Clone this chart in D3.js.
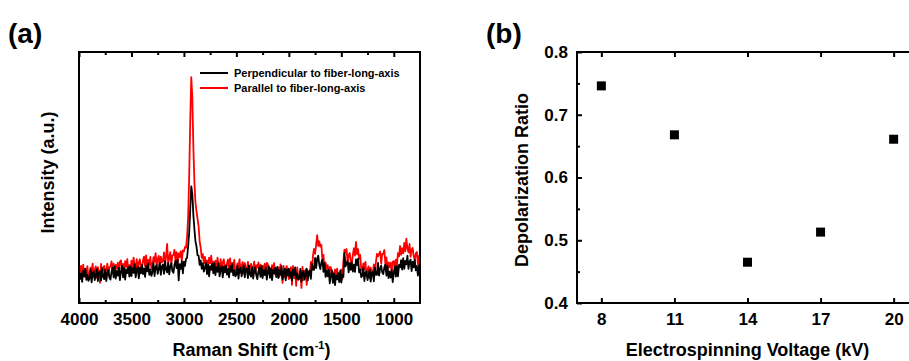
<!DOCTYPE html>
<html>
<head>
<meta charset="utf-8">
<script src="https://cdn.jsdelivr.net/npm/d3@7"></script>
<style>
  body { margin: 0; background: #fff; }
  text { font-family: "Liberation Sans", Arial, sans-serif; font-weight: bold; fill: #000; }
</style>
</head>
<body>
<svg id="chart" width="909" height="361"></svg>
<script>
// Raman shift grid (cm-1)
const shifts = [
  4000, 3990, 3980, 3970, 3960, 3950, 3940, 3930, 3920, 3910,
  3900, 3890, 3880, 3870, 3860, 3850, 3840, 3830, 3820, 3810,
  3800, 3790, 3780, 3770, 3760, 3750, 3740, 3730, 3720, 3710,
  3700, 3690, 3680, 3670, 3660, 3650, 3640, 3630, 3620, 3610,
  3600, 3590, 3580, 3570, 3560, 3550, 3540, 3530, 3520, 3510,
  3500, 3490, 3480, 3470, 3460, 3450, 3440, 3430, 3420, 3410,
  3400, 3390, 3380, 3370, 3360, 3350, 3340, 3330, 3320, 3310,
  3300, 3290, 3280, 3270, 3260, 3250, 3240, 3230, 3220, 3210,
  3200, 3190, 3180, 3170, 3160, 3150, 3140, 3130, 3120, 3110,
  3100, 3090, 3080, 3070, 3060, 3050, 3040, 3030, 3020, 3010,
  3000, 2990, 2980, 2970, 2960, 2950, 2940, 2930, 2920, 2910,
  2900, 2890, 2880, 2870, 2860, 2850, 2840, 2830, 2820, 2810,
  2800, 2790, 2780, 2770, 2760, 2750, 2740, 2730, 2720, 2710,
  2700, 2690, 2680, 2670, 2660, 2650, 2640, 2630, 2620, 2610,
  2600, 2590, 2580, 2570, 2560, 2550, 2540, 2530, 2520, 2510,
  2500, 2490, 2480, 2470, 2460, 2450, 2440, 2430, 2420, 2410,
  2400, 2390, 2380, 2370, 2360, 2350, 2340, 2330, 2320, 2310,
  2300, 2290, 2280, 2270, 2260, 2250, 2240, 2230, 2220, 2210,
  2200, 2190, 2180, 2170, 2160, 2150, 2140, 2130, 2120, 2110,
  2100, 2090, 2080, 2070, 2060, 2050, 2040, 2030, 2020, 2010,
  2000, 1990, 1980, 1970, 1960, 1950, 1940, 1930, 1920, 1910,
  1900, 1890, 1880, 1870, 1860, 1850, 1840, 1830, 1820, 1810,
  1800, 1790, 1780, 1770, 1760, 1750, 1740, 1730, 1720, 1710,
  1700, 1690, 1680, 1670, 1660, 1650, 1640, 1630, 1620, 1610,
  1600, 1590, 1580, 1570, 1560, 1550, 1540, 1530, 1520, 1510,
  1500, 1490, 1480, 1470, 1460, 1450, 1440, 1430, 1420, 1410,
  1400, 1390, 1380, 1370, 1360, 1350, 1340, 1330, 1320, 1310,
  1300, 1290, 1280, 1270, 1260, 1250, 1240, 1230, 1220, 1210,
  1200, 1190, 1180, 1170, 1160, 1150, 1140, 1130, 1120, 1110,
  1100, 1090, 1080, 1070, 1060, 1050, 1040, 1030, 1020, 1010,
  1000, 990, 980, 970, 960, 950, 940, 930, 920, 910,
  900, 890, 880, 870, 860, 850, 840, 830, 820, 810,
  800, 790, 780, 770, 760, 750
];

// Perpendicular to fiber-long-axis (a.u.)
const perpendicular = [
  13.2, 9.5, 11.8, 8.4, 12.9, 10.6, 13.7, 9.2, 11.3, 8.8,
  9.8, 13.4, 8.2, 11.9, 12.6, 9.1, 11.2, 13.5, 8.7, 12.1,
  12.7, 8.9, 13.9, 10.6, 9.5, 13.3, 8.7, 11.9, 13.2, 10.0,
  9.3, 12.5, 14.1, 10.2, 14.6, 9.7, 12.8, 10.9, 14.0, 9.1,
  12.7, 14.8, 10.2, 13.9, 9.3, 13.4, 11.9, 14.3, 10.5, 14.6,
  10.7, 13.9, 12.0, 15.5, 10.2, 13.0, 14.4, 9.8, 14.1, 11.8,
  15.2, 11.5, 13.8, 10.4, 14.9, 12.6, 15.7, 11.2, 13.3, 10.8,
  12.3, 15.9, 10.7, 14.4, 15.1, 11.6, 13.7, 16.0, 11.2, 14.6,
  15.4, 11.6, 16.6, 13.3, 12.2, 16.0, 11.4, 14.6, 15.9, 12.7,
  12.0, 15.2, 16.8, 13.9, 17.3, 9.0, 15.5, 13.6, 16.7, 11.8,
  16.5, 14.8, 17.6, 18.0, 22.5, 28.0, 37.0, 46.5, 43.5, 35.0,
  29.5, 24.5, 22.5, 19.0, 18.8, 15.2, 17.0, 13.6, 15.8, 12.5,
  14.0, 16.1, 11.5, 15.2, 10.6, 14.7, 13.2, 15.6, 11.8, 15.9,
  11.1, 14.3, 12.4, 15.9, 10.6, 13.4, 14.8, 10.2, 14.5, 12.2,
  15.0, 11.3, 13.6, 10.2, 14.7, 12.4, 15.5, 11.0, 13.1, 10.6,
  11.3, 14.9, 9.7, 13.4, 14.1, 10.6, 12.7, 15.0, 10.2, 13.6,
  13.7, 9.9, 14.9, 11.6, 10.5, 14.3, 9.7, 12.9, 14.2, 11.0,
  9.5, 12.7, 14.3, 10.4, 14.8, 9.9, 13.0, 11.1, 14.2, 9.3,
  12.5, 14.6, 10.0, 13.7, 9.1, 13.2, 11.7, 14.1, 10.3, 14.4,
  9.9, 13.1, 11.2, 14.7, 9.4, 12.2, 13.6, 9.0, 13.3, 11.0,
  13.7, 10.0, 12.3, 8.9, 13.4, 11.1, 14.2, 9.7, 11.8, 9.3,
  10.0, 13.6, 8.4, 12.1, 12.8, 9.3, 11.4, 13.7, 8.9, 12.3,
  12.9, 9.6, 15.6, 13.3, 13.2, 18.0, 13.9, 17.6, 18.9, 15.2,
  13.5, 16.2, 17.3, 12.4, 15.8, 10.4, 13.0, 10.6, 13.2, 7.8,
  11.0, 13.1, 8.0, 11.7, 7.1, 11.0, 9.5, 11.9, 8.3, 12.9,
  8.1, 11.3, 10.4, 19.9, 14.6, 15.9, 16.8, 12.2, 16.0, 13.2,
  16.2, 12.5, 15.3, 12.4, 17.4, 15.1, 17.7, 12.2, 13.3, 10.3,
  10.8, 14.2, 8.7, 12.1, 12.6, 9.1, 11.2, 13.3, 8.5, 12.1,
  12.4, 8.6, 14.1, 11.3, 11.2, 16.0, 10.9, 13.6, 14.9, 12.2,
  11.5, 14.2, 15.3, 10.9, 14.8, 9.9, 12.5, 10.1, 13.2, 8.3,
  12.0, 14.6, 10.5, 14.7, 10.6, 15.2, 14.2, 17.1, 13.3, 17.9,
  13.6, 16.8, 15.4, 18.9, 13.6, 16.4, 17.3, 12.7, 16.5, 14.2,
  17.2, 13.0, 14.8, 10.9, 14.9, 12.1
];

// Parallel to fiber-long-axis (a.u.)
const parallel = [
  10.0, 13.2, 14.8, 10.9, 15.3, 10.4, 13.5, 11.6, 14.7, 9.8,
  10.9, 14.1, 12.2, 15.7, 10.4, 13.2, 14.6, 10.0, 14.3, 12.0,
  8.0, 15.6, 10.4, 14.1, 14.8, 11.3, 13.4, 15.7, 10.9, 14.3,
  14.5, 16.6, 12.0, 15.7, 11.1, 15.2, 13.7, 16.1, 12.3, 16.4,
  17.0, 13.3, 15.6, 12.2, 16.7, 14.4, 17.5, 13.0, 15.1, 12.6,
  16.9, 13.1, 18.1, 14.8, 13.7, 17.5, 12.9, 16.1, 17.4, 14.2,
  13.7, 16.9, 18.5, 14.6, 19.0, 14.1, 17.2, 15.3, 18.4, 13.5,
  15.1, 18.3, 16.4, 19.9, 14.6, 17.4, 18.8, 14.2, 18.5, 16.2,
  16.6, 20.2, 15.0, 18.7, 23.5, 15.9, 18.0, 20.3, 15.5, 18.9,
  19.1, 21.2, 16.6, 20.3, 15.7, 19.8, 18.3, 20.7, 16.9, 21.0,
  20.5, 22.3, 22.0, 26.5, 34.0, 50.0, 72.0, 90.0, 82.0, 62.0,
  48.0, 40.0, 36.5, 33.5, 30.5, 24.5, 22.0, 18.0, 19.5, 15.8,
  18.4, 14.7, 17.0, 13.6, 18.1, 15.8, 18.9, 14.4, 16.5, 14.0,
  16.9, 13.1, 18.1, 14.8, 13.7, 17.5, 12.9, 16.1, 17.4, 14.2,
  12.5, 15.7, 17.3, 13.4, 17.8, 12.9, 16.0, 14.1, 17.2, 12.3,
  12.6, 15.8, 13.9, 17.4, 12.1, 14.9, 16.3, 11.7, 16.0, 13.7,
  12.8, 16.4, 11.2, 14.9, 15.6, 12.1, 14.2, 16.5, 11.7, 15.1,
  14.1, 16.2, 11.6, 15.3, 10.7, 14.8, 13.3, 15.7, 11.9, 16.0,
  15.4, 11.7, 14.0, 10.6, 15.1, 12.8, 15.9, 11.4, 13.5, 11.0,
  14.2, 10.4, 15.4, 12.1, 8.0, 14.8, 10.2, 13.4, 14.7, 11.5,
  9.5, 12.7, 14.3, 7.2, 14.8, 9.9, 13.0, 6.8, 14.2, 9.3,
  9.6, 12.8, 6.0, 14.4, 9.1, 11.9, 13.3, 7.2, 13.0, 10.7,
  11.3, 16.4, 13.2, 18.9, 21.6, 19.6, 23.2, 27.0, 22.7, 24.6,
  22.5, 23.1, 17.0, 19.2, 13.1, 16.2, 13.7, 15.1, 10.8, 14.4,
  14.2, 10.5, 12.3, 8.9, 13.4, 10.6, 13.7, 9.2, 11.8, 9.8,
  13.4, 9.6, 16.6, 21.3, 20.2, 21.5, 15.9, 19.1, 19.9, 16.7,
  15.5, 19.2, 21.8, 18.9, 24.3, 19.4, 21.5, 17.6, 19.2, 13.3,
  13.1, 15.8, 13.4, 16.4, 10.6, 13.4, 14.6, 9.8, 14.1, 12.2,
  11.8, 15.4, 11.2, 16.4, 19.6, 18.6, 19.7, 20.5, 15.7, 19.6,
  19.5, 21.1, 15.5, 18.2, 12.6, 16.2, 14.2, 16.1, 12.3, 16.4,
  16.7, 14.0, 17.3, 14.9, 19.9, 18.6, 22.7, 19.2, 21.8, 19.8,
  23.9, 20.6, 25.6, 21.8, 20.2, 23.5, 18.4, 21.1, 21.9, 18.7,
  17.0, 19.7, 20.3, 15.4, 18.8, 12.9
];

const shiftTicks = [4000, 3500, 3000, 2500, 2000, 1500, 1000];
const shiftMinor = [3750, 3250, 2750, 2250, 1750, 1250];

// Panel (b)
const voltages = [8, 11, 14, 17, 20];
const depolarization = [0.746, 0.668, 0.465, 0.513, 0.661];
const voltageTicks = [8, 11, 14, 17, 20];
const ratioTicks = [0.4, 0.5, 0.6, 0.7, 0.8];
const ratioMinor = [0.45, 0.55, 0.65, 0.75];

const svg = d3.select('#chart');

// ---------- panel (a) ----------
const ax = { left: 79, right: 420, top: 52, bottom: 303 };

const xA = d3.scaleLinear().domain([4000, 750]).range([ax.left, ax.right]);
const yA = d3.scaleLinear().domain([0, 100]).range([ax.bottom, ax.top]);

svg.append('text').attr('x', 8).attr('y', 43)
  .style('font-size', '28px').text('(a)');

svg.append('defs').append('clipPath').attr('id', 'clipA')
  .append('rect')
  .attr('x', ax.left).attr('y', ax.top)
  .attr('width', ax.right - ax.left).attr('height', ax.bottom - ax.top);

const line = (vals) => d3.line()
  .x((d, i) => xA(shifts[i]))
  .y(d => yA(d))(vals);

const plotA = svg.append('g').attr('clip-path', 'url(#clipA)');
plotA.append('path').attr('d', line(parallel))
  .attr('fill', 'none').attr('stroke', '#ff0000').attr('stroke-width', 1.8)
  .attr('stroke-linejoin', 'round');
plotA.append('path').attr('d', line(perpendicular))
  .attr('fill', 'none').attr('stroke', '#000').attr('stroke-width', 1.8)
  .attr('stroke-linejoin', 'round');

// bottom axis, ticks inward
svg.append('g')
  .attr('transform', 'translate(0,' + ax.bottom + ')')
  .call(d3.axisBottom(xA).tickValues(shiftTicks).tickSize(-5).tickPadding(10).tickFormat(d3.format('d')))
  .call(g => g.select('.domain').remove())
  .call(g => g.selectAll('text').style('font-size', '17px'))
  .call(g => g.selectAll('line').attr('stroke-width', 2));
svg.append('g')
  .attr('transform', 'translate(0,' + ax.bottom + ')')
  .call(d3.axisBottom(xA).tickValues(shiftMinor).tickSize(-3).tickFormat(''))
  .call(g => g.select('.domain').remove())
  .call(g => g.selectAll('line').attr('stroke-width', 2));
// top axis
svg.append('g')
  .attr('transform', 'translate(0,' + ax.top + ')')
  .call(d3.axisTop(xA).tickValues(shiftTicks).tickSize(-5).tickFormat(''))
  .call(g => g.select('.domain').remove())
  .call(g => g.selectAll('line').attr('stroke-width', 2));
svg.append('g')
  .attr('transform', 'translate(0,' + ax.top + ')')
  .call(d3.axisTop(xA).tickValues(shiftMinor).tickSize(-3).tickFormat(''))
  .call(g => g.select('.domain').remove())
  .call(g => g.selectAll('line').attr('stroke-width', 2));

svg.append('rect')
  .attr('x', ax.left).attr('y', ax.top)
  .attr('width', ax.right - ax.left).attr('height', ax.bottom - ax.top)
  .attr('fill', 'none').attr('stroke', '#000').attr('stroke-width', 2);

const xTitle = svg.append('text')
  .attr('x', (ax.left + ax.right) / 2 + 2).attr('y', 356)
  .attr('text-anchor', 'middle').style('font-size', '18px');
xTitle.append('tspan').text('Raman Shift (cm');
xTitle.append('tspan').attr('dy', -7).style('font-size', '11px').text('-1');
xTitle.append('tspan').attr('dy', 7).text(')');

svg.append('text')
  .attr('transform', 'translate(54,' + ((ax.top + ax.bottom) / 2 - 5) + ') rotate(-90)')
  .attr('text-anchor', 'middle').style('font-size', '18px')
  .text('Intensity (a.u.)');

// legend
const legend = [
  { label: 'Perpendicular to fiber-long-axis', color: '#000' },
  { label: 'Parallel to fiber-long-axis', color: '#ff0000' }
];
const lg = svg.append('g').attr('transform', 'translate(200,73)');
legend.forEach((d, i) => {
  lg.append('line').attr('x1', 0).attr('x2', 28)
    .attr('y1', i * 15).attr('y2', i * 15)
    .attr('stroke', d.color).attr('stroke-width', 2);
  lg.append('text').attr('x', 34).attr('y', i * 15 + 4)
    .style('font-size', '11px').text(d.label);
});

// ---------- panel (b) ----------
const bx = { left: 577, right: 918, top: 52, bottom: 303 };

const xB = d3.scaleLinear().domain([7, 21]).range([bx.left, bx.right]);
const yB = d3.scaleLinear().domain([0.4, 0.8]).range([bx.bottom, bx.top]);

svg.append('text').attr('x', 486).attr('y', 43)
  .style('font-size', '28px').text('(b)');

svg.append('g')
  .attr('transform', 'translate(0,' + bx.bottom + ')')
  .call(d3.axisBottom(xB).tickValues(voltageTicks).tickSize(-5).tickPadding(10).tickFormat(d3.format('d')))
  .call(g => g.select('.domain').remove())
  .call(g => g.selectAll('text').style('font-size', '17px'))
  .call(g => g.selectAll('line').attr('stroke-width', 2));
svg.append('g')
  .attr('transform', 'translate(0,' + bx.top + ')')
  .call(d3.axisTop(xB).tickValues(voltageTicks).tickSize(-5).tickFormat(''))
  .call(g => g.select('.domain').remove())
  .call(g => g.selectAll('line').attr('stroke-width', 2));
svg.append('g')
  .attr('transform', 'translate(' + bx.left + ',0)')
  .call(d3.axisLeft(yB).tickValues(ratioTicks).tickSize(-5).tickPadding(9).tickFormat(d3.format('.1f')))
  .call(g => g.select('.domain').remove())
  .call(g => g.selectAll('text').style('font-size', '17px'))
  .call(g => g.selectAll('line').attr('stroke-width', 2));
svg.append('g')
  .attr('transform', 'translate(' + bx.left + ',0)')
  .call(d3.axisLeft(yB).tickValues(ratioMinor).tickSize(-3).tickFormat(''))
  .call(g => g.select('.domain').remove())
  .call(g => g.selectAll('line').attr('stroke-width', 2));

svg.append('rect')
  .attr('x', bx.left).attr('y', bx.top)
  .attr('width', bx.right - bx.left).attr('height', bx.bottom - bx.top)
  .attr('fill', 'none').attr('stroke', '#000').attr('stroke-width', 2);

svg.append('g').selectAll('rect')
  .data(voltages)
  .join('rect')
  .attr('x', (d) => xB(d) - 4.5)
  .attr('y', (d, i) => yB(depolarization[i]) - 4.5)
  .attr('width', 9).attr('height', 9)
  .attr('fill', '#000');

svg.append('text')
  .attr('x', xB(14)).attr('y', 356)
  .attr('text-anchor', 'middle').style('font-size', '18px')
  .text('Electrospinning Voltage (kV)');

svg.append('text')
  .attr('transform', 'translate(528,180) rotate(-90)')
  .attr('text-anchor', 'middle').style('font-size', '18px')
  .text('Depolarization Ratio');
</script>
</body>
</html>
